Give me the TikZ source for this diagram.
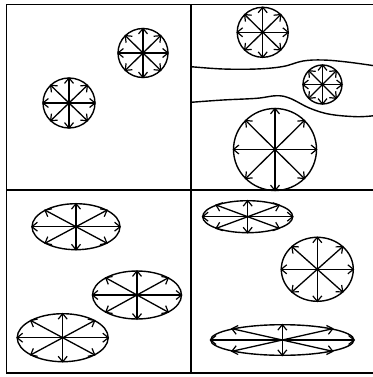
\documentclass[tikz,border=0pt]{standalone}
\usetikzlibrary{arrows.meta}
\tikzset{
  shape line/.style={line width=1.4pt},
  frame line/.style={line width=1.7pt},
  burstarrow/.style={line width=1.3pt, -{Straight Barb[length=5.5pt,width=9pt,line width=1.2pt]}},
}
\newcommand\starell[5]{%
  \coordinate (#1) at (#2,#3);
  \draw[shape line] (#1) ellipse [x radius=#4pt, y radius=#5pt];
  \foreach \a in {0,45,...,315}
    \draw[burstarrow] (#1) -- ++({(#4+1)*cos(\a)},{(#5+1)*sin(\a)});
}
\begin{document}
\begin{tikzpicture}[x=1pt,y=-1pt]
\useasboundingbox (0,0) rectangle (372,377);
% frame
\coordinate (tl) at (6.5,4.5);
\coordinate (br) at (374,373);
\coordinate (vt) at (191,4.5);
\coordinate (vb) at (191,373);
\coordinate (hl) at (6.5,190);
\coordinate (hr) at (374,190);
\draw[frame line] (tl) rectangle (br);
\draw[frame line] (vt) -- (vb);
\draw[frame line] (hl) -- (hr);
% river
\draw[shape line] plot[smooth, tension=0.6] coordinates {(191,66.7) (223,69) (256.7,69) (283,66.5) (303,61) (323,60) (347,62) (374,65.7)};
\draw[shape line] plot[smooth, tension=0.6] coordinates {(191,102.3) (223,100) (256.7,98.3) (276.7,95.7) (290,98.3) (310,108.3) (330,114.3) (356.7,116.7) (374,115.7)};
% top left
\starell{tlA}{143}{53}{25}{24.5}
\starell{tlB}{69}{103}{26}{25}
% top right
\starell{trA}{262.7}{32.3}{25.5}{25}
\starell{trB}{322.5}{84.5}{19.5}{19.5}
\starell{trC}{275}{149.5}{41.5}{41}
% bottom left
\starell{blA}{76}{226.7}{44}{23}
\starell{blB}{137}{295}{44.5}{24}
\starell{blC}{62.7}{337.7}{45.5}{24}
% bottom right
\starell{brA}{247.7}{216.7}{45}{16}
\starell{brB}{317.3}{269.3}{36}{32}
\starell{brC}{282.3}{340}{71.7}{15.3}
\end{tikzpicture}
\end{document}
